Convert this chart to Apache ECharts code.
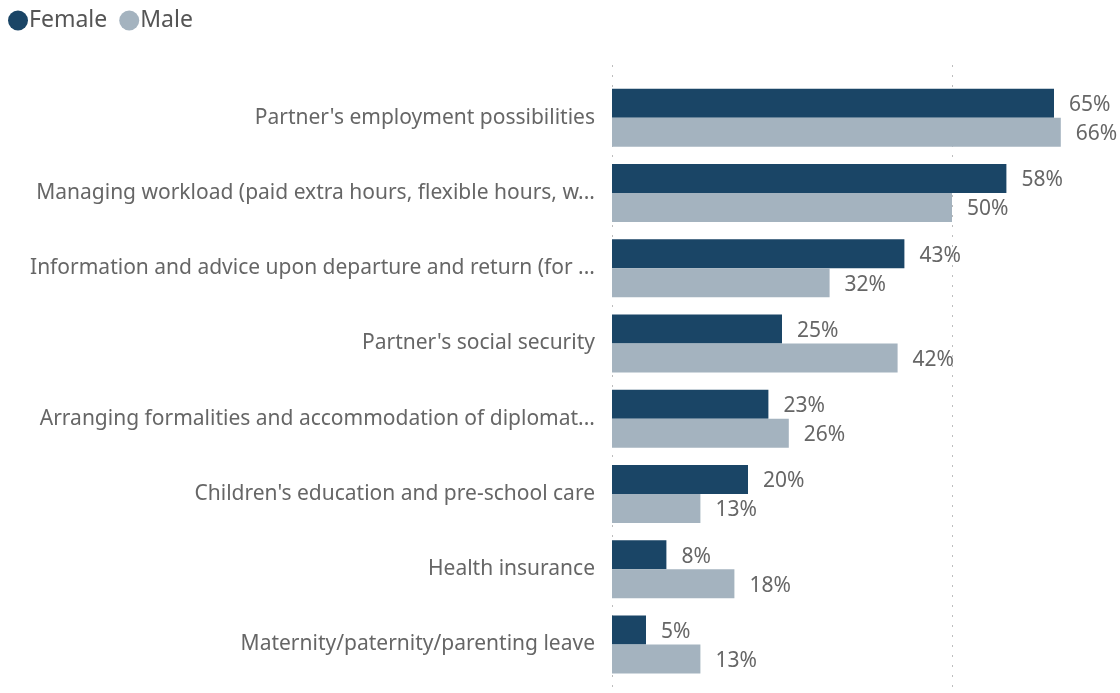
<!DOCTYPE html>
<html><head><meta charset="utf-8">
<script src="https://cdn.jsdelivr.net/npm/echarts@6/dist/echarts.min.js"></script>
<style>html,body{margin:0;padding:0;background:#fff}#c{width:1120px;height:693px}</style>
</head><body><div id="c"></div>
<script>
const categories = [
  "Partner's employment possibilities",
  "Managing workload (paid extra hours, flexible hours, w...",
  "Information and advice upon departure and return (for ...",
  "Partner's social security",
  "Arranging formalities and accommodation of diplomat...",
  "Children's education and pre-school care",
  "Health insurance",
  "Maternity/paternity/parenting leave"
];
const female = [65, 58, 43, 25, 23, 20, 8, 5];
const male = [66, 50, 32, 42, 26, 13, 18, 13];
const axisMin = 0, axisMax = 70, axisStep = 50;

const FONT = "'Noto Sans', 'Open Sans', sans-serif";
const chart = echarts.init(document.getElementById('c'));
const lbl = {show: true, position: 'right', distance: 15, offset: [0, 2], formatter: '{c}%', color: '#666', fontSize: 21, fontFamily: FONT};
chart.setOption({
  animation: false,
  textStyle: {fontFamily: FONT},
  legend: {
    left: 3, top: 4, itemWidth: 20, itemHeight: 20, itemGap: 12,
    icon: 'circle',
    textStyle: {fontSize: 23, color: '#555', fontFamily: FONT, padding: [0,0,0,-4]},
    data: ['Female', 'Male']
  },
  grid: [
    {left: 612, top: 65, width: 476, bottom: 0},
    {left: 612, top: 80, width: 476, height: 602}
  ],
  xAxis: [
    {
      gridIndex: 0, type: 'value', min: axisMin, max: axisMax, interval: axisStep,
      axisLabel: {show: false}, axisLine: {show: false}, axisTick: {show: false},
      splitLine: {show: true, showMaxLine: false, lineStyle: {color: '#bdbdbd', type: [2, 8], width: 1}}
    },
    {
      gridIndex: 1, type: 'value', min: axisMin, max: axisMax, interval: axisStep,
      axisLabel: {show: false}, axisLine: {show: false}, axisTick: {show: false},
      splitLine: {show: false}
    }
  ],
  yAxis: [
    {gridIndex: 0, type: 'value', min: 0, max: 1, show: false, splitLine: {show: false}},
    {
      gridIndex: 1, type: 'category', data: categories, inverse: true,
      axisLine: {show: false}, axisTick: {show: false},
      axisLabel: {color: '#666', fontSize: 21, fontFamily: FONT, margin: 17, padding: [4, 0, 0, 0]}
    }
  ],
  series: [
    {name: 'Female', type: 'bar', xAxisIndex: 1, yAxisIndex: 1, data: female, barWidth: 29, barGap: '0%', itemStyle: {color: '#1a4566'}, label: lbl},
    {name: 'Male', type: 'bar', xAxisIndex: 1, yAxisIndex: 1, data: male, barWidth: 29, itemStyle: {color: '#a4b3bf'}, label: lbl}
  ]
});
</script></body></html>
